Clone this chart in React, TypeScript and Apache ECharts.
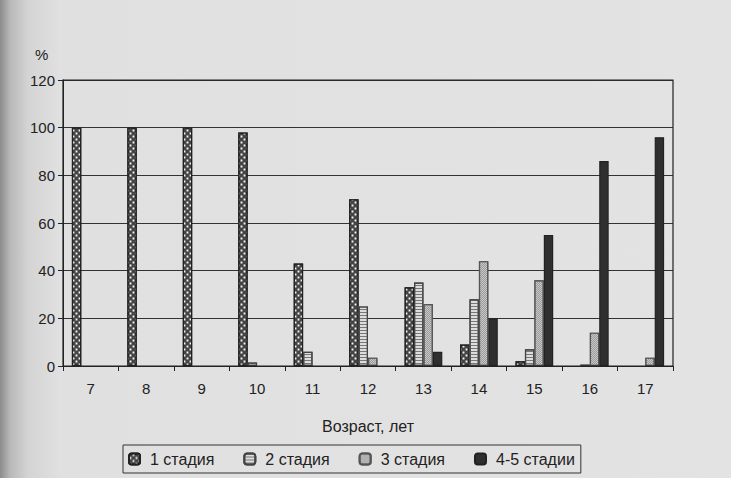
import React, { useEffect, useRef } from "react";
import * as echarts from "echarts";

const ages = ["7", "8", "9", "10", "11", "12", "13", "14", "15", "16", "17"];
const seriesNames = ["1 стадия", "2 стадия", "3 стадия", "4-5 стадии"];
const stage1 = [100, 100, 100, 98, 43, 70, 33, 9, 2, null, null];
const stage2 = [null, null, null, 1.5, 6, 25, 35, 28, 7, 0.6, null];
const stage3 = [null, null, null, null, null, 3.5, 26, 44, 36, 14, 3.5];
const stage45 = [null, null, null, null, null, null, 6, 20, 55, 86, 96];
const yTicks = [0, 20, 40, 60, 80, 100, 120];

const FONT = "Liberation Sans, Arial, sans-serif";

export default function App() {
  const ref = useRef<HTMLDivElement>(null);
  useEffect(() => {
    if (!ref.current) return;
    const chart = echarts.init(ref.current, undefined, { renderer: "svg" });
    const decals: any[] = [
      {
        symbol: "rect",
        symbolSize: 0.62,
        color: "#f4f4f4",
        backgroundColor: "#262626",
        dashArrayX: [[3, 3], [0, 3, 3, 0]],
        dashArrayY: [3, 0],
        rotation: 0,
      },
      {
        symbol: "rect",
        symbolSize: 1,
        color: "#777",
        backgroundColor: "#f0f0f0",
        dashArrayX: [1, 0],
        dashArrayY: [1, 2],
        rotation: 0,
      },
      {
        symbol: "rect",
        symbolSize: 1,
        color: "#9a9a9a",
        backgroundColor: "#e8e8e8",
        dashArrayX: [[1, 1], [0, 1, 1, 0]],
        dashArrayY: [1, 0],
        rotation: 0,
      },
      null,
    ];
    const baseColors = ["#444", "#ddd", "#c8c8c8", "#2f2f2f"];
    const borderColors = ["#222", "#444", "#555", "#222"];
    const datasets = [stage1, stage2, stage3, stage45];
    chart.setOption({
      animation: false,
      backgroundColor: "transparent",
      textStyle: { fontFamily: FONT },
      grid: { left: 63, right: 58, top: 80, bottom: 112 },
      legend: {
        left: 123,
        top: 445,
        orient: "horizontal",
        itemWidth: 11,
        itemHeight: 11,
        itemGap: 29,
        padding: [6, 6, 6, 5],
        borderColor: "#333",
        borderWidth: 1,
        backgroundColor: "transparent",
        textStyle: { fontSize: 16, color: "#222", fontFamily: FONT, padding: [0, 0, 0, 5] },
        data: seriesNames,
      },
      xAxis: {
        type: "category",
        data: ages,
        name: "Возраст, лет",
        nameLocation: "middle",
        nameGap: 52,
        nameTextStyle: { fontSize: 16, color: "#222", fontFamily: FONT },
        axisLine: { show: true, lineStyle: { color: "#222", width: 1 } },
        axisTick: { show: true, length: 5, alignWithLabel: false, lineStyle: { color: "#222" } },
        axisLabel: { fontSize: 15, color: "#222", margin: 15, fontFamily: FONT },
        splitLine: { show: false },
      },
      yAxis: {
        type: "value",
        min: yTicks[0],
        max: yTicks[yTicks.length - 1],
        interval: 20,
        axisLine: { show: true, lineStyle: { color: "#222", width: 1 } },
        axisTick: { show: true, length: 5, lineStyle: { color: "#222" } },
        axisLabel: { fontSize: 15, color: "#222", margin: 8, fontFamily: FONT },
        splitLine: { show: true, lineStyle: { color: "#333", width: 1.2 } },
      },
      graphic: [
        {
          type: "rect",
          shape: { x: 63, y: 80, width: 731 - 58 - 63, height: 478 - 112 - 80 },
          style: { fill: "none", stroke: "#222", lineWidth: 1.2 },
          silent: true,
          z: 10,
        },
        {
          type: "text",
          x: 35,
          y: 47,
          style: { text: "%", fontSize: 15, fill: "#222", fontFamily: FONT },
        },
      ],
      series: datasets.map((d, i) => ({
        name: seriesNames[i],
        type: "bar",
        data: d,
        barGap: "0%",
        barCategoryGap: "32%",
        itemStyle: {
          color: baseColors[i],
          borderColor: borderColors[i],
          borderWidth: 1.2,
          ...(decals[i] ? { decal: decals[i] } : {}),
        },
      })),
    });
    return () => chart.dispose();
  }, []);
  return (
    <div
      style={{
        position: "fixed",
        left: 0,
        top: 0,
        width: 731,
        height: 478,
        background:
          "linear-gradient(to right, #8c8c8c 0px, #b8b8b8 10px, #d4d4d4 28px, #e0e0e0 60px, #e3e3e3 100%)",
      }}
    >
      <div ref={ref} style={{ width: 731, height: 478 }} />
    </div>
  );
}
